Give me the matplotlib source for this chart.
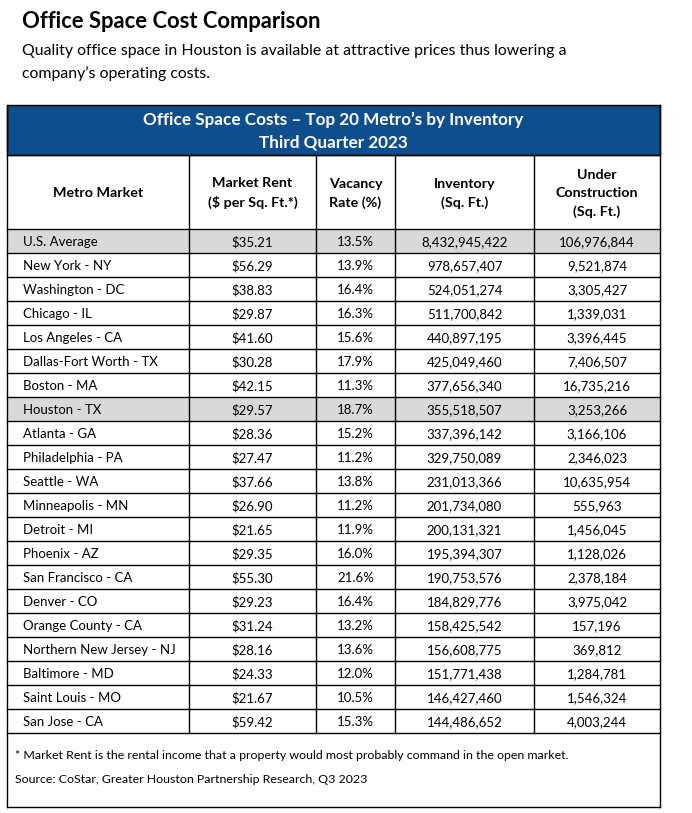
import matplotlib.pyplot as plt
from matplotlib.patches import Rectangle

plt.rcParams['font.family'] = ['Lato', 'DejaVu Sans']

title = "Office Space Cost Comparison"
subtitle = ["Quality office space in Houston is available at attractive prices thus lowering a",
            "company\u2019s operating costs."]
banner = ["Office Space Costs \u2013 Top 20 Metro\u2019s by Inventory", "Third Quarter 2023"]
headers = ["Metro Market", "Market Rent\n($ per Sq. Ft.*)", "Vacancy\nRate (%)",
           "Inventory\n(Sq. Ft.)", "Under\nConstruction\n(Sq. Ft.)"]

metros = ["U.S. Average", "New York - NY", "Washington - DC", "Chicago - IL", "Los Angeles - CA",
          "Dallas-Fort Worth - TX", "Boston - MA", "Houston - TX", "Atlanta - GA", "Philadelphia - PA",
          "Seattle - WA", "Minneapolis - MN", "Detroit - MI", "Phoenix - AZ", "San Francisco - CA",
          "Denver - CO", "Orange County - CA", "Northern New Jersey - NJ", "Baltimore - MD",
          "Saint Louis - MO", "San Jose - CA"]
rent = [35.21, 56.29, 38.83, 29.87, 41.60, 30.28, 42.15, 29.57, 28.36, 27.47, 37.66, 26.90,
        21.65, 29.35, 55.30, 29.23, 31.24, 28.16, 24.33, 21.67, 59.42]
vacancy = [13.5, 13.9, 16.4, 16.3, 15.6, 17.9, 11.3, 18.7, 15.2, 11.2, 13.8, 11.2, 11.9, 16.0,
           21.6, 16.4, 13.2, 13.6, 12.0, 10.5, 15.3]
inventory = [8432945422, 978657407, 524051274, 511700842, 440897195, 425049460, 377656340,
             355518507, 337396142, 329750089, 231013366, 201734080, 200131321, 195394307,
             190753576, 184829776, 158425542, 156608775, 151771438, 146427460, 144486652]
under_constr = [106976844, 9521874, 3305427, 1339031, 3396445, 7406507, 16735216, 3253266,
                3166106, 2346023, 10635954, 555963, 1456045, 1128026, 2378184, 3975042,
                157196, 369812, 1284781, 1546324, 4003244]
highlight = ["U.S. Average", "Houston - TX"]
footnote = "* Market Rent is the rental income that a property would most probably command in the open market."
source = "Source: CoStar, Greater Houston Partnership Research, Q3 2023"

W, H = 692, 813
fig = plt.figure(figsize=(W / 100, H / 100), dpi=100)
ax = fig.add_axes([0, 0, 1, 1])
ax.set_xlim(0, W)
ax.set_ylim(H, 0)
ax.axis('off')

# layout in pixels
cols = [7, 189, 316, 395, 534, 660]
top, band_bot, head_bot = 105, 155, 229
row_h = 24
tbl_bot = head_bot + row_h * len(metros)
foot_bot = 807
blue = '#0E4E8C'
lw = 1.0

ax.text(22, 21, title, fontsize=15.8, fontweight='bold', va='center', ha='left')
ax.text(22, 51, subtitle[0], fontsize=11.4, va='center', ha='left')
ax.text(22, 74, subtitle[1], fontsize=11.4, va='center', ha='left')

# blue banner
ax.add_patch(Rectangle((cols[0], top), cols[-1] - cols[0], band_bot - top, facecolor=blue,
                       edgecolor='black', lw=lw))
ax.text((cols[0] + cols[-1]) / 2, 120, banner[0], color='white', fontsize=12.3,
        fontweight='bold', ha='center', va='center')
ax.text((cols[0] + cols[-1]) / 2, 142, banner[1], color='white', fontsize=12.3,
        fontweight='bold', ha='center', va='center')

# shaded rows
for i, m in enumerate(metros):
    if m in highlight:
        y0 = head_bot + i * row_h
        ax.add_patch(Rectangle((cols[0], y0), cols[-1] - cols[0], row_h, facecolor='#D9D9D9',
                               edgecolor='none'))

# grid lines
for y in [band_bot, head_bot] + [head_bot + i * row_h for i in range(1, len(metros) + 1)]:
    ax.plot([cols[0], cols[-1]], [y, y], color='black', lw=lw)
for x in cols[1:-1]:
    ax.plot([x, x], [band_bot, tbl_bot], color='black', lw=lw)
ax.plot([cols[0], cols[0]], [top, foot_bot], color='black', lw=lw)
ax.plot([cols[-1], cols[-1]], [top, foot_bot], color='black', lw=lw)
ax.plot([cols[0], cols[-1]], [foot_bot, foot_bot], color='black', lw=lw)

# header row
centers = [(cols[i] + cols[i + 1]) / 2 for i in range(len(cols) - 1)]
for c, h in zip(centers, headers):
    ax.text(c, (band_bot + head_bot) / 2 + 1, h, fontsize=10.3, fontweight='bold', ha='center',
            va='center', linespacing=1.6)

# data rows
for i, m in enumerate(metros):
    yc = head_bot + i * row_h + row_h / 2 + 1
    ax.text(23, yc, m, fontsize=9.5, ha='left', va='center')
    ax.text(centers[1], yc, f"${rent[i]:.2f}", fontsize=9.5, ha='center', va='center')
    ax.text(centers[2], yc, f"{vacancy[i]:.1f}%", fontsize=9.5, ha='center', va='center')
    ax.text(centers[3], yc, f"{inventory[i]:,}", fontsize=9.5, ha='center', va='center')
    ax.text(centers[4], yc, f"{under_constr[i]:,}", fontsize=9.5, ha='center', va='center')

ax.text(15, 755, footnote, fontsize=8.9, ha='left', va='center')
ax.text(15, 779, source, fontsize=8.9, ha='left', va='center')

fig.savefig('out.png', dpi=100, facecolor='white')
